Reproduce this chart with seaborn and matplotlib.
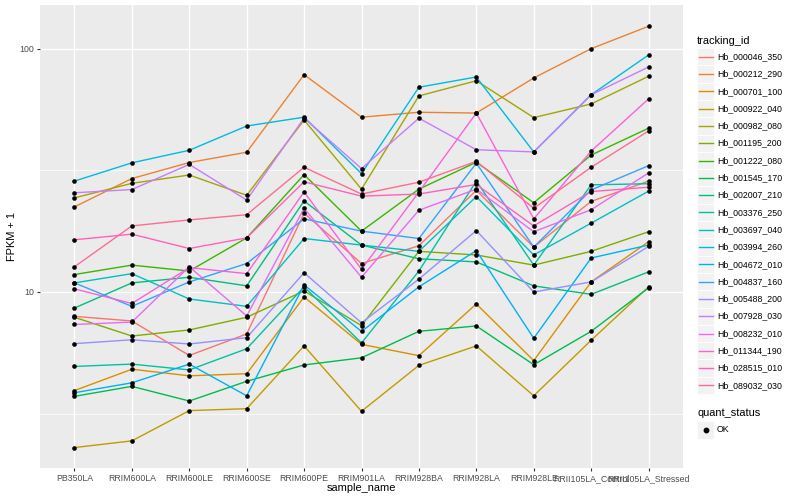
import pandas as pd
import matplotlib
matplotlib.use('Agg')
import matplotlib.pyplot as plt
import seaborn as sns
from matplotlib.patches import Rectangle
from matplotlib.lines import Line2D
from matplotlib.ticker import FixedLocator, FixedFormatter, NullFormatter

# DATA (FPKM + 1)
samples = ['PB350LA', 'RRIM600LA', 'RRIM600LE', 'RRIM600SE', 'RRIM600PE', 'RRIM901LA',
           'RRIM928BA', 'RRIM928LA', 'RRIM928LE', 'RRII105LA_Control', 'RRII105LA_Stressed']

tracking_ids = ['Hb_000046_350', 'Hb_000212_290', 'Hb_000701_100', 'Hb_000922_040',
                'Hb_000982_080', 'Hb_001195_200', 'Hb_001222_080', 'Hb_001545_170',
                'Hb_002007_210', 'Hb_003376_250', 'Hb_003697_040', 'Hb_003994_260',
                'Hb_004672_010', 'Hb_004837_160', 'Hb_005488_200', 'Hb_007928_030',
                'Hb_008232_010', 'Hb_011344_190', 'Hb_028515_010', 'Hb_089032_030']

hb_000046_350 = [7.94, 7.60, 5.48, 6.72, 21.1, 13.1, 15.5, 26.2, 15.3, 23.6, 28.6]
hb_000212_290 = [22.4, 29.3, 34.1, 37.6, 78.4, 52.4, 54.9, 54.5, 76.0, 100.3, 124.0]
hb_000701_100 = [3.93, 4.81, 4.52, 4.61, 9.54, 6.09, 5.47, 8.93, 5.22, 11.0, 16.1]
hb_000922_040 = [2.29, 2.44, 3.25, 3.31, 6.00, 3.23, 4.99, 6.00, 3.74, 6.33, 10.5]
hb_000982_080 = [24.4, 28.0, 30.3, 25.0, 51.0, 26.5, 64.1, 74.0, 52.2, 59.4, 77.2]
hb_001195_200 = [7.87, 6.59, 6.98, 7.87, 10.1, 7.27, 14.7, 14.2, 12.9, 14.7, 17.7]
hb_001222_080 = [11.8, 12.9, 12.2, 16.7, 30.4, 17.8, 26.5, 34.2, 23.3, 36.6, 47.2]
hb_001545_170 = [3.72, 4.09, 3.56, 4.29, 5.01, 5.36, 6.89, 7.25, 5.02, 6.89, 10.4]
hb_002007_210 = [8.59, 10.9, 11.5, 10.6, 23.7, 15.6, 13.7, 13.3, 10.6, 9.78, 12.1]
hb_003376_250 = [4.94, 5.05, 4.78, 5.84, 10.5, 6.17, 12.2, 28.6, 12.9, 27.6, 27.9]
hb_003697_040 = [10.9, 11.9, 9.36, 8.73, 16.6, 15.6, 14.7, 24.7, 14.2, 19.2, 26.0]
hb_003994_260 = [28.6, 34.0, 38.3, 48.2, 52.4, 30.7, 69.6, 76.7, 37.7, 64.8, 94.5]
hb_004672_010 = [3.85, 4.23, 5.05, 3.74, 10.7, 6.88, 10.5, 14.8, 6.45, 13.8, 15.6]
hb_004837_160 = [10.9, 8.73, 11.0, 13.1, 20.0, 17.8, 16.6, 33.9, 15.3, 26.3, 33.1]
hb_005488_200 = [6.13, 6.36, 6.11, 6.49, 12.0, 7.47, 11.3, 17.9, 10.0, 11.0, 15.4]
hb_007928_030 = [25.6, 26.4, 33.5, 23.9, 52.0, 32.2, 51.9, 38.5, 37.7, 64.8, 84.3]
hb_008232_010 = [7.35, 7.52, 12.7, 7.97, 22.1, 11.5, 21.7, 26.5, 17.7, 21.8, 30.9]
hb_011344_190 = [10.3, 8.97, 12.6, 11.9, 25.8, 12.4, 25.8, 54.5, 20.0, 38.0, 62.3]
hb_028515_010 = [16.4, 17.3, 15.1, 16.7, 28.4, 24.8, 25.3, 27.7, 18.7, 25.9, 27.0]
hb_089032_030 = [12.7, 18.7, 19.8, 20.8, 32.6, 25.3, 28.3, 34.5, 22.1, 32.6, 46.0]

series = [hb_000046_350, hb_000212_290, hb_000701_100, hb_000922_040, hb_000982_080,
          hb_001195_200, hb_001222_080, hb_001545_170, hb_002007_210, hb_003376_250,
          hb_003697_040, hb_003994_260, hb_004672_010, hb_004837_160, hb_005488_200,
          hb_007928_030, hb_008232_010, hb_011344_190, hb_028515_010, hb_089032_030]

# ggplot default hue palette for 20 levels
hue_colors = ['#F8766D', '#EA8331', '#D89000', '#C09B00', '#A3A500', '#7CAE00', '#39B600',
              '#00BB4E', '#00BF7D', '#00C1A3', '#00BFC4', '#00BAE0', '#00B0F6', '#35A2FF',
              '#9590FF', '#C77CFF', '#E76BF3', '#FA62DB', '#FF62BC', '#FF6C91']

rows = []
for tid, vals in zip(tracking_ids, series):
    for s, v in zip(samples, vals):
        rows.append({'tracking_id': tid, 'sample_name': s, 'fpkm': v, 'quant_status': 'OK'})
df = pd.DataFrame(rows)

plt.rcParams['font.family'] = ['Liberation Sans', 'DejaVu Sans']

W, H = 800, 500
fig = plt.figure(figsize=(8, 5), dpi=100)
ax = fig.add_axes([40 / W, 1 - 468 / H, 643 / W, 463 / H])
ax.set_facecolor('#EBEBEB')

sns.lineplot(data=df, x='sample_name', y='fpkm', hue='tracking_id',
             palette=dict(zip(tracking_ids, hue_colors)), estimator=None, sort=False,
             legend=False, linewidth=1.0, ax=ax)
sns.scatterplot(data=df, x='sample_name', y='fpkm', color='black', s=11, marker='o',
                linewidth=0, legend=False, ax=ax, zorder=3)

ax.set_yscale('log')
ax.set_ylim(1.887, 151.7)
ax.set_xlim(-0.6, 10.6)
ax.yaxis.set_major_locator(FixedLocator([10, 100]))
ax.yaxis.set_major_formatter(FixedFormatter(['10', '100']))
ax.yaxis.set_minor_locator(FixedLocator([10 ** 0.5, 10 ** 1.5]))
ax.yaxis.set_minor_formatter(NullFormatter())
ax.grid(which='major', color='white', linewidth=1.0)
ax.grid(which='minor', axis='y', color='white', linewidth=0.5)
ax.set_axisbelow(True)
for sp in ax.spines.values():
    sp.set_visible(False)

ax.tick_params(axis='both', which='major', length=2.2, width=0.8, color='#333333',
               labelsize=6.3, labelcolor='#4D4D4D', pad=2)
ax.tick_params(axis='y', which='minor', length=0)

ax.set_xlabel('sample_name', fontsize=7.9, va='center')
ax.set_ylabel('FPKM + 1', fontsize=7.9, va='center')
ax.xaxis.set_label_coords(0.5, -(488 - 468) / 463)
ax.yaxis.set_label_coords((12 - 40) / 643, 0.5)


# legend drawn by hand in figure pixels (ggplot style keys)
def fx(x):
    return x / W


def fy(y):
    return 1 - y / H


fig.text(fx(697), fy(40.7), 'tracking_id', fontsize=7.9, va='center', ha='left')
key = 17.3
for i, (tid, col) in enumerate(zip(tracking_ids, hue_colors)):
    yc = 56.7 + key * i
    fig.patches.append(Rectangle((fx(697), fy(yc + key / 2)), key / W, key / H,
                                 transform=fig.transFigure, facecolor='#F2F2F2',
                                 edgecolor='white', linewidth=0.6))
    fig.lines.append(Line2D([fx(698.5), fx(712.5)], [fy(yc), fy(yc)], color=col,
                            linewidth=1.0, transform=fig.transFigure))
    fig.text(fx(717), fy(yc), tid, fontsize=6.3, va='center', ha='left')

fig.text(fx(697), fy(412.7), 'quant_status', fontsize=7.9, va='center', ha='left')
yc = 430
fig.patches.append(Rectangle((fx(697), fy(yc + key / 2)), key / W, key / H,
                             transform=fig.transFigure, facecolor='#F2F2F2',
                             edgecolor='white', linewidth=0.6))
fig.lines.append(Line2D([fx(705.6)], [fy(yc)], marker='o', markersize=3.2, color='black',
                        linestyle='none', transform=fig.transFigure))
fig.text(fx(717), fy(yc), 'OK', fontsize=6.3, va='center', ha='left')

fig.savefig('out.png', dpi=100)
